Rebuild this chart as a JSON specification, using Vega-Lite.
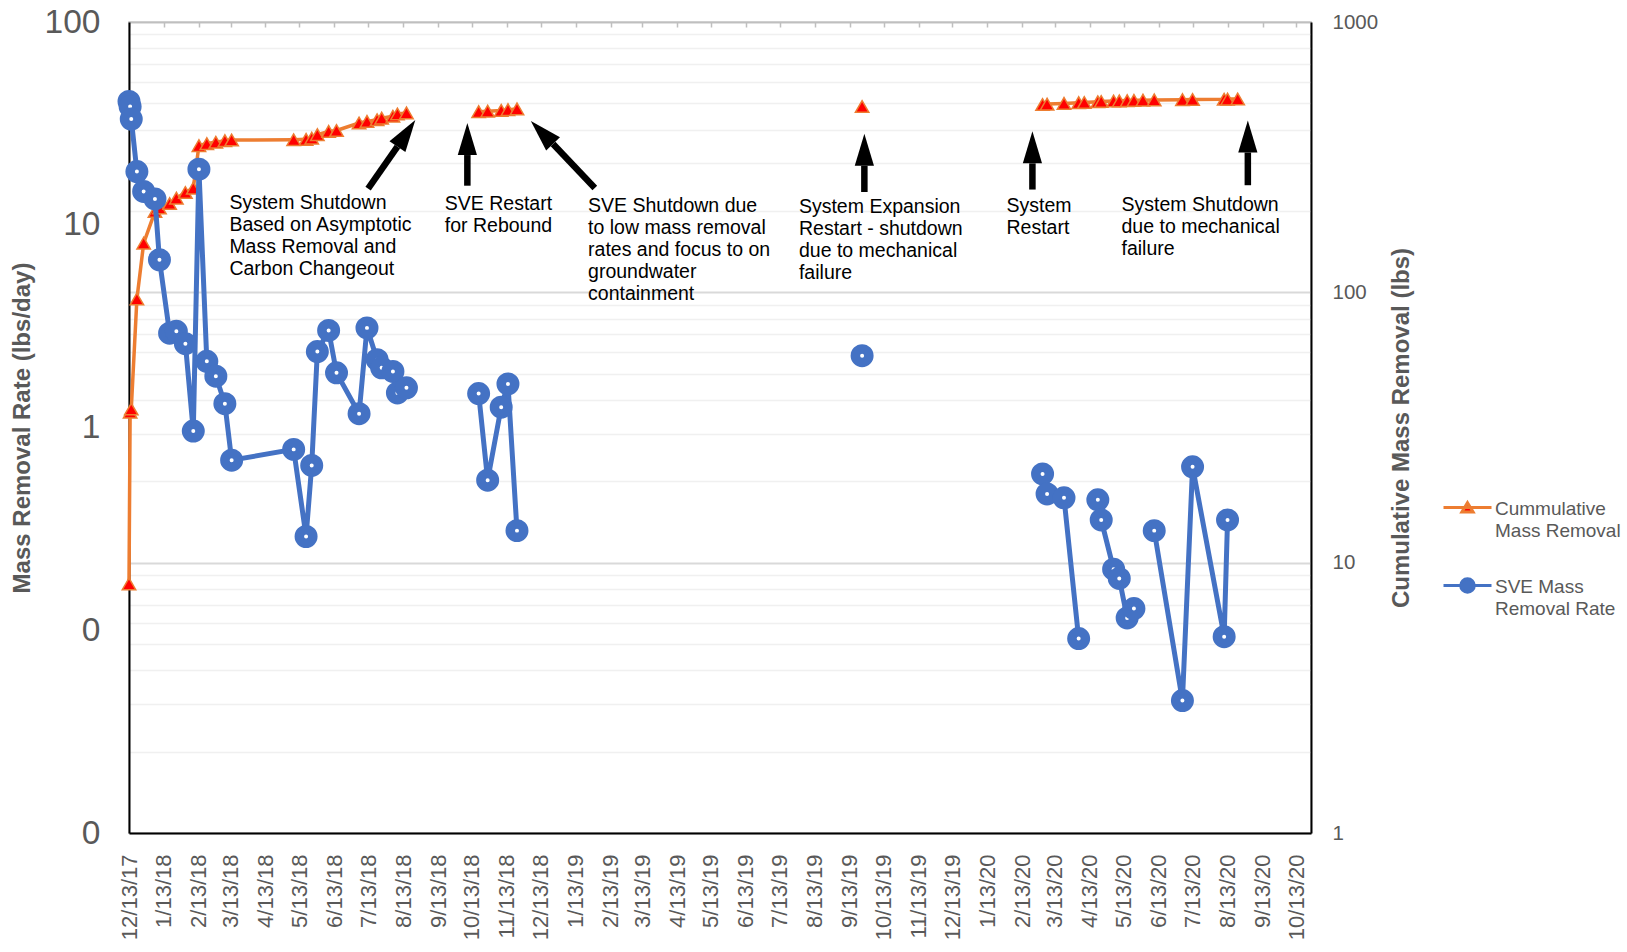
{
  "$schema": "https://vega.github.io/schema/vega-lite/v6.json",
  "width": 1182,
  "height": 811,
  "autosize": {"type": "none"},
  "padding": {"left": 129, "top": 22, "right": 316, "bottom": 119},
  "background": "white",
  "config": {
    "font": "Liberation Sans",
    "view": {"stroke": "#BFBFBF", "strokeWidth": 1.5}
  },
  "datasets": {
    "rate": [
      {"date": "2017/12/13", "rate": 40.6, "segment": "Dec 2017 - Aug 2018"},
      {"date": "2017/12/14", "rate": 38.3, "segment": "Dec 2017 - Aug 2018"},
      {"date": "2017/12/15", "rate": 33.2, "segment": "Dec 2017 - Aug 2018"},
      {"date": "2017/12/20", "rate": 18.3, "segment": "Dec 2017 - Aug 2018"},
      {"date": "2017/12/26", "rate": 14.6, "segment": "Dec 2017 - Aug 2018"},
      {"date": "2018/01/05", "rate": 13.4, "segment": "Dec 2017 - Aug 2018"},
      {"date": "2018/01/09", "rate": 6.72, "segment": "Dec 2017 - Aug 2018"},
      {"date": "2018/01/18", "rate": 2.92, "segment": "Dec 2017 - Aug 2018"},
      {"date": "2018/01/24", "rate": 2.98, "segment": "Dec 2017 - Aug 2018"},
      {"date": "2018/02/01", "rate": 2.59, "segment": "Dec 2017 - Aug 2018"},
      {"date": "2018/02/08", "rate": 0.96, "segment": "Dec 2017 - Aug 2018"},
      {"date": "2018/02/13", "rate": 18.8, "segment": "Dec 2017 - Aug 2018"},
      {"date": "2018/02/20", "rate": 2.12, "segment": "Dec 2017 - Aug 2018"},
      {"date": "2018/02/28", "rate": 1.79, "segment": "Dec 2017 - Aug 2018"},
      {"date": "2018/03/08", "rate": 1.31, "segment": "Dec 2017 - Aug 2018"},
      {"date": "2018/03/14", "rate": 0.69, "segment": "Dec 2017 - Aug 2018"},
      {"date": "2018/05/08", "rate": 0.78, "segment": "Dec 2017 - Aug 2018"},
      {"date": "2018/05/19", "rate": 0.29, "segment": "Dec 2017 - Aug 2018"},
      {"date": "2018/05/24", "rate": 0.65, "segment": "Dec 2017 - Aug 2018"},
      {"date": "2018/05/29", "rate": 2.37, "segment": "Dec 2017 - Aug 2018"},
      {"date": "2018/06/08", "rate": 3.01, "segment": "Dec 2017 - Aug 2018"},
      {"date": "2018/06/15", "rate": 1.86, "segment": "Dec 2017 - Aug 2018"},
      {"date": "2018/07/05", "rate": 1.17, "segment": "Dec 2017 - Aug 2018"},
      {"date": "2018/07/12", "rate": 3.10, "segment": "Dec 2017 - Aug 2018"},
      {"date": "2018/07/21", "rate": 2.16, "segment": "Dec 2017 - Aug 2018"},
      {"date": "2018/07/25", "rate": 1.97, "segment": "Dec 2017 - Aug 2018"},
      {"date": "2018/08/04", "rate": 1.89, "segment": "Dec 2017 - Aug 2018"},
      {"date": "2018/08/08", "rate": 1.48, "segment": "Dec 2017 - Aug 2018"},
      {"date": "2018/08/16", "rate": 1.57, "segment": "Dec 2017 - Aug 2018"},
      {"date": "2018/10/19", "rate": 1.47, "segment": "Oct - Nov 2018"},
      {"date": "2018/10/27", "rate": 0.55, "segment": "Oct - Nov 2018"},
      {"date": "2018/11/08", "rate": 1.26, "segment": "Oct - Nov 2018"},
      {"date": "2018/11/14", "rate": 1.64, "segment": "Oct - Nov 2018"},
      {"date": "2018/11/22", "rate": 0.31, "segment": "Oct - Nov 2018"},
      {"date": "2019/09/24", "rate": 2.26, "segment": "Sep 2019"},
      {"date": "2020/03/02", "rate": 0.59, "segment": "Mar - Apr 2020"},
      {"date": "2020/03/06", "rate": 0.47, "segment": "Mar - Apr 2020"},
      {"date": "2020/03/21", "rate": 0.45, "segment": "Mar - Apr 2020"},
      {"date": "2020/04/03", "rate": 0.091, "segment": "Mar - Apr 2020"},
      {"date": "2020/04/20", "rate": 0.44, "segment": "Apr - May 2020"},
      {"date": "2020/04/23", "rate": 0.35, "segment": "Apr - May 2020"},
      {"date": "2020/05/04", "rate": 0.20, "segment": "Apr - May 2020"},
      {"date": "2020/05/09", "rate": 0.18, "segment": "Apr - May 2020"},
      {"date": "2020/05/16", "rate": 0.115, "segment": "Apr - May 2020"},
      {"date": "2020/05/22", "rate": 0.128, "segment": "Apr - May 2020"},
      {"date": "2020/06/09", "rate": 0.31, "segment": "Jun - Aug 2020"},
      {"date": "2020/07/04", "rate": 0.045, "segment": "Jun - Aug 2020"},
      {"date": "2020/07/13", "rate": 0.64, "segment": "Jun - Aug 2020"},
      {"date": "2020/08/10", "rate": 0.093, "segment": "Jun - Aug 2020"},
      {"date": "2020/08/13", "rate": 0.35, "segment": "Jun - Aug 2020"}
    ],
    "cumulative": [
      {"date": "2017/12/13", "lbs": 8.35, "segment": "Dec 2017 - Aug 2018"},
      {"date": "2017/12/14", "lbs": 36, "segment": "Dec 2017 - Aug 2018"},
      {"date": "2017/12/15", "lbs": 37, "segment": "Dec 2017 - Aug 2018"},
      {"date": "2017/12/20", "lbs": 94.5, "segment": "Dec 2017 - Aug 2018"},
      {"date": "2017/12/26", "lbs": 152, "segment": "Dec 2017 - Aug 2018"},
      {"date": "2018/01/05", "lbs": 199, "segment": "Dec 2017 - Aug 2018"},
      {"date": "2018/01/09", "lbs": 205, "segment": "Dec 2017 - Aug 2018"},
      {"date": "2018/01/18", "lbs": 213, "segment": "Dec 2017 - Aug 2018"},
      {"date": "2018/01/24", "lbs": 223, "segment": "Dec 2017 - Aug 2018"},
      {"date": "2018/02/01", "lbs": 234, "segment": "Dec 2017 - Aug 2018"},
      {"date": "2018/02/08", "lbs": 243, "segment": "Dec 2017 - Aug 2018"},
      {"date": "2018/02/13", "lbs": 349, "segment": "Dec 2017 - Aug 2018"},
      {"date": "2018/02/20", "lbs": 355, "segment": "Dec 2017 - Aug 2018"},
      {"date": "2018/02/28", "lbs": 359, "segment": "Dec 2017 - Aug 2018"},
      {"date": "2018/03/08", "lbs": 364, "segment": "Dec 2017 - Aug 2018"},
      {"date": "2018/03/14", "lbs": 366, "segment": "Dec 2017 - Aug 2018"},
      {"date": "2018/05/08", "lbs": 367, "segment": "Dec 2017 - Aug 2018"},
      {"date": "2018/05/19", "lbs": 368, "segment": "Dec 2017 - Aug 2018"},
      {"date": "2018/05/24", "lbs": 372, "segment": "Dec 2017 - Aug 2018"},
      {"date": "2018/05/29", "lbs": 383, "segment": "Dec 2017 - Aug 2018"},
      {"date": "2018/06/08", "lbs": 394, "segment": "Dec 2017 - Aug 2018"},
      {"date": "2018/06/15", "lbs": 397, "segment": "Dec 2017 - Aug 2018"},
      {"date": "2018/07/05", "lbs": 423, "segment": "Dec 2017 - Aug 2018"},
      {"date": "2018/07/12", "lbs": 429, "segment": "Dec 2017 - Aug 2018"},
      {"date": "2018/07/21", "lbs": 435, "segment": "Dec 2017 - Aug 2018"},
      {"date": "2018/07/25", "lbs": 441, "segment": "Dec 2017 - Aug 2018"},
      {"date": "2018/08/04", "lbs": 448, "segment": "Dec 2017 - Aug 2018"},
      {"date": "2018/08/08", "lbs": 457, "segment": "Dec 2017 - Aug 2018"},
      {"date": "2018/08/16", "lbs": 461, "segment": "Dec 2017 - Aug 2018"},
      {"date": "2018/10/19", "lbs": 466, "segment": "Oct - Nov 2018"},
      {"date": "2018/10/27", "lbs": 468, "segment": "Oct - Nov 2018"},
      {"date": "2018/11/08", "lbs": 471, "segment": "Oct - Nov 2018"},
      {"date": "2018/11/14", "lbs": 474, "segment": "Oct - Nov 2018"},
      {"date": "2018/11/22", "lbs": 477, "segment": "Oct - Nov 2018"},
      {"date": "2019/09/24", "lbs": 487, "segment": "Sep 2019"},
      {"date": "2020/03/02", "lbs": 495, "segment": "2020"},
      {"date": "2020/03/06", "lbs": 497, "segment": "2020"},
      {"date": "2020/03/21", "lbs": 500, "segment": "2020"},
      {"date": "2020/04/03", "lbs": 503, "segment": "2020"},
      {"date": "2020/04/08", "lbs": 504, "segment": "2020"},
      {"date": "2020/04/20", "lbs": 507, "segment": "2020"},
      {"date": "2020/04/23", "lbs": 508, "segment": "2020"},
      {"date": "2020/05/04", "lbs": 510, "segment": "2020"},
      {"date": "2020/05/09", "lbs": 511, "segment": "2020"},
      {"date": "2020/05/16", "lbs": 512, "segment": "2020"},
      {"date": "2020/05/22", "lbs": 513, "segment": "2020"},
      {"date": "2020/05/30", "lbs": 514, "segment": "2020"},
      {"date": "2020/06/09", "lbs": 515, "segment": "2020"},
      {"date": "2020/07/04", "lbs": 516, "segment": "2020"},
      {"date": "2020/07/13", "lbs": 517, "segment": "2020"},
      {"date": "2020/08/10", "lbs": 518, "segment": "2020"},
      {"date": "2020/08/13", "lbs": 518.5, "segment": "2020"},
      {"date": "2020/08/22", "lbs": 519, "segment": "2020"}
    ],
    "notes": [
      {"date": "2018/03/12", "lbs": 231, "note": "System Shutdown|Based on Asymptotic|Mass Removal and|Carbon Changeout"},
      {"date": "2018/09/19", "lbs": 230, "note": "SVE Restart|for Rebound"},
      {"date": "2019/01/24", "lbs": 225, "note": "SVE Shutdown  due|to low mass removal|rates and focus to on|groundwater|containment"},
      {"date": "2019/07/30", "lbs": 223, "note": "System Expansion|Restart - shutdown|due to mechanical|failure"},
      {"date": "2020/01/30", "lbs": 225, "note": "System|Restart"},
      {"date": "2020/05/11", "lbs": 228, "note": "System Shutdown|due to mechanical|failure"}
    ],
    "arrows": [
      {"event": "Asymptotic shutdown", "date": "2018/07/13", "lbs": 242, "headDate": "2018/08/08", "headLbs": 346},
      {"event": "Rebound restart", "date": "2018/10/09", "lbs": 248, "headDate": "2018/10/09", "headLbs": 322},
      {"event": "Low-rate shutdown", "date": "2019/01/30", "lbs": 243, "headDate": "2018/12/24", "headLbs": 354},
      {"event": "Expansion restart", "date": "2019/09/26", "lbs": 235, "headDate": "2019/09/26", "headLbs": 294},
      {"event": "System restart", "date": "2020/02/22", "lbs": 240, "headDate": "2020/02/22", "headLbs": 300},
      {"event": "Mechanical shutdown", "date": "2020/08/31", "lbs": 249, "headDate": "2020/08/31", "headLbs": 329}
    ]
  },
  "layer": [
    {
      "encoding": {
        "x": {
          "field": "date",
          "type": "temporal",
          "scale": {
            "domain": [{"year": 2017, "month": 12, "date": 13}, {"year": 2020, "month": 10, "date": 26}],
            "nice": false
          },
          "axis": {
            "title": null,
            "values": [
              {"year": 2017, "month": 12, "date": 13},
              {"year": 2018, "month": 1, "date": 13}, {"year": 2018, "month": 2, "date": 13}, {"year": 2018, "month": 3, "date": 13},
              {"year": 2018, "month": 4, "date": 13}, {"year": 2018, "month": 5, "date": 13}, {"year": 2018, "month": 6, "date": 13},
              {"year": 2018, "month": 7, "date": 13}, {"year": 2018, "month": 8, "date": 13}, {"year": 2018, "month": 9, "date": 13},
              {"year": 2018, "month": 10, "date": 13}, {"year": 2018, "month": 11, "date": 13}, {"year": 2018, "month": 12, "date": 13},
              {"year": 2019, "month": 1, "date": 13}, {"year": 2019, "month": 2, "date": 13}, {"year": 2019, "month": 3, "date": 13},
              {"year": 2019, "month": 4, "date": 13}, {"year": 2019, "month": 5, "date": 13}, {"year": 2019, "month": 6, "date": 13},
              {"year": 2019, "month": 7, "date": 13}, {"year": 2019, "month": 8, "date": 13}, {"year": 2019, "month": 9, "date": 13},
              {"year": 2019, "month": 10, "date": 13}, {"year": 2019, "month": 11, "date": 13}, {"year": 2019, "month": 12, "date": 13},
              {"year": 2020, "month": 1, "date": 13}, {"year": 2020, "month": 2, "date": 13}, {"year": 2020, "month": 3, "date": 13},
              {"year": 2020, "month": 4, "date": 13}, {"year": 2020, "month": 5, "date": 13}, {"year": 2020, "month": 6, "date": 13},
              {"year": 2020, "month": 7, "date": 13}, {"year": 2020, "month": 8, "date": 13}, {"year": 2020, "month": 9, "date": 13},
              {"year": 2020, "month": 10, "date": 13}
            ],
            "format": "%-m/%-d/%y",
            "labelAngle": -90,
            "labelFontSize": 22,
            "labelColor": "#595959",
            "labelPadding": 21,
            "labelOverlap": false,
            "labelFlush": false,
            "ticks": false,
            "grid": false,
            "domainColor": "#000000",
            "domainWidth": 2
          }
        }
      },
      "layer": [
        {
          "encoding": {
            "y": {
              "field": "lbs",
              "type": "quantitative",
              "scale": {"type": "log", "domain": [1, 1000], "nice": false},
              "axis": {
                "orient": "right",
                "title": "Cumulative Mass Removal  (lbs)",
                "titleAngle": 270,
                "titleFontSize": 24,
                "titleFontWeight": "bold",
                "titleColor": "#595959",
                "titlePadding": 36,
                "values": [1, 2, 3, 4, 5, 6, 7, 8, 9, 10, 20, 30, 40, 50, 60, 70, 80, 90, 100, 200, 300, 400, 500, 600, 700, 800, 900, 1000],
                "labelExpr": "indexof([1, 10, 100, 1000], datum.value) >= 0 ? format(datum.value, 'd') : ''",
                "labelFontSize": 20.5,
                "labelColor": "#595959",
                "labelPadding": 21,
                "labelOverlap": false,
                "labelFlush": false,
                "ticks": false,
                "domainColor": "#000000",
                "domainWidth": 2,
                "grid": true,
                "gridColor": {"condition": {"test": "indexof([1, 10, 100, 1000], datum.value) >= 0", "value": "#D9D9D9"}, "value": "#F0F0F0"},
                "gridWidth": {"condition": {"test": "indexof([1, 10, 100, 1000], datum.value) >= 0", "value": 2}, "value": 1.5}
              }
            }
          },
          "layer": [
            {
              "data": {"name": "cumulative"},
              "mark": {"type": "line", "strokeWidth": 3.5},
              "encoding": {
                "detail": {"field": "segment", "type": "nominal"},
                "stroke": {
                  "datum": "Cummulative Mass Removal",
                  "type": "nominal",
                  "scale": {"domain": ["Cummulative Mass Removal", "SVE Mass Removal Rate"], "range": ["#ED7D31", "#4472C4"]},
                  "legend": {
                    "orient": "none",
                    "legendX": 1329,
                    "legendY": 476,
                    "title": null,
                    "padding": 0,
                    "symbolSize": 256,
                    "symbolStrokeWidth": 3,
                    "symbolOffset": 0,
                    "labelOffset": 18,
                    "labelFontSize": 19,
                    "labelColor": "#595959",
                    "labelBaseline": "top",
                    "rowPadding": 31,
                    "labelExpr": "datum.value == 'Cummulative Mass Removal' ? ['Cummulative', 'Mass Removal'] : ['SVE Mass', 'Removal Rate']",
                    "encode": {
                      "symbols": {
                        "update": {
                          "shape": {"signal": "datum.value == 'Cummulative Mass Removal' ? 'M-3,0H3M0,-0.6L0.7,0.55L-0.7,0.55Z' : 'M-3,0H3M0.85,0A0.85,0.85 0 1,1 -0.85,0A0.85,0.85 0 1,1 0.85,0Z'"},
                          "fill": {"signal": "datum.value == 'Cummulative Mass Removal' ? '#FF0000' : '#4472C4'"},
                          "stroke": {"signal": "datum.value == 'Cummulative Mass Removal' ? '#ED7D31' : '#4472C4'"},
                          "opacity": {"value": 1}
                        }
                      },
                      "labels": {"update": {"lineHeight": {"value": 22}, "dy": {"value": -7.5}}}
                    }
                  }
                }
              }
            },
            {
              "data": {"name": "cumulative"},
              "mark": {"type": "point", "shape": "triangle-up", "filled": true, "fill": "#FF0000", "stroke": "#ED7D31", "strokeWidth": 1.5, "size": 180, "opacity": 1}
            }
          ]
        },
        {
          "encoding": {
            "y": {
              "field": "rate",
              "type": "quantitative",
              "scale": {"type": "log", "domain": [0.01, 100], "nice": false},
              "axis": {
                "orient": "left",
                "title": "Mass Removal Rate (lbs/day)",
                "titleFontSize": 24,
                "titleFontWeight": "bold",
                "titleColor": "#595959",
                "titlePadding": 10,
                "values": [0.01, 0.1, 1, 10, 100],
                "labelExpr": "datum.value >= 1 ? format(datum.value, 'd') : '0'",
                "labelFontSize": 33.5,
                "labelColor": "#595959",
                "labelPadding": 29,
                "labelOverlap": false,
                "labelFlush": false,
                "ticks": false,
                "grid": false,
                "domainColor": "#000000",
                "domainWidth": 2
              }
            }
          },
          "layer": [
            {
              "data": {"name": "rate"},
              "mark": {"type": "line", "strokeWidth": 5},
              "encoding": {
                "detail": {"field": "segment", "type": "nominal"},
                "stroke": {"datum": "SVE Mass Removal Rate", "type": "nominal"}
              }
            },
            {
              "data": {"name": "rate"},
              "mark": {"type": "point", "shape": "circle", "filled": true, "fill": "#FFFFFF", "stroke": "#4472C4", "strokeWidth": 9.5, "size": 182, "opacity": 1}
            }
          ]
        }
      ],
      "resolve": {"scale": {"y": "independent"}}
    },
    {
      "encoding": {
        "x": {
          "field": "date",
          "type": "temporal",
          "scale": {
            "domain": [{"year": 2017, "month": 12, "date": 13}, {"year": 2020, "month": 10, "date": 26}],
            "nice": false
          },
          "axis": {
            "orient": "top",
            "title": null,
            "labels": false,
            "values": [
              {"year": 2017, "month": 12, "date": 13},
              {"year": 2018, "month": 1, "date": 13}, {"year": 2018, "month": 2, "date": 13}, {"year": 2018, "month": 3, "date": 13},
              {"year": 2018, "month": 4, "date": 13}, {"year": 2018, "month": 5, "date": 13}, {"year": 2018, "month": 6, "date": 13},
              {"year": 2018, "month": 7, "date": 13}, {"year": 2018, "month": 8, "date": 13}, {"year": 2018, "month": 9, "date": 13},
              {"year": 2018, "month": 10, "date": 13}, {"year": 2018, "month": 11, "date": 13}, {"year": 2018, "month": 12, "date": 13},
              {"year": 2019, "month": 1, "date": 13}, {"year": 2019, "month": 2, "date": 13}, {"year": 2019, "month": 3, "date": 13},
              {"year": 2019, "month": 4, "date": 13}, {"year": 2019, "month": 5, "date": 13}, {"year": 2019, "month": 6, "date": 13},
              {"year": 2019, "month": 7, "date": 13}, {"year": 2019, "month": 8, "date": 13}, {"year": 2019, "month": 9, "date": 13},
              {"year": 2019, "month": 10, "date": 13}, {"year": 2019, "month": 11, "date": 13}, {"year": 2019, "month": 12, "date": 13},
              {"year": 2020, "month": 1, "date": 13}, {"year": 2020, "month": 2, "date": 13}, {"year": 2020, "month": 3, "date": 13},
              {"year": 2020, "month": 4, "date": 13}, {"year": 2020, "month": 5, "date": 13}, {"year": 2020, "month": 6, "date": 13},
              {"year": 2020, "month": 7, "date": 13}, {"year": 2020, "month": 8, "date": 13}, {"year": 2020, "month": 9, "date": 13},
              {"year": 2020, "month": 10, "date": 13}
            ],
            "ticks": true,
            "tickSize": -5,
            "tickColor": "#BFBFBF",
            "tickWidth": 1.5,
            "grid": false,
            "domainColor": "#BFBFBF",
            "domainWidth": 1.5
          }
        },
        "y": {
          "field": "lbs",
          "type": "quantitative",
          "scale": {"type": "log", "domain": [1, 1000], "nice": false},
          "axis": null
        }
      },
      "layer": [
        {
          "data": {"name": "arrows"},
          "mark": {"type": "rule", "color": "#000000", "strokeWidth": 6.5, "strokeCap": "butt"},
          "encoding": {"x2": {"field": "headDate"}, "y2": {"field": "headLbs"}}
        },
        {
          "data": {"name": "arrows"},
          "transform": [{"filter": "indexof(['Asymptotic shutdown', 'Low-rate shutdown'], datum.event) < 0"}],
          "mark": {"type": "point", "shape": "M0,-2L0.6,0L-0.6,0Z", "filled": true, "color": "#000000", "size": 1024, "opacity": 1, "strokeWidth": 0},
          "encoding": {"x": {"field": "headDate", "type": "temporal"}, "y": {"field": "headLbs", "type": "quantitative"}}
        },
        {
          "data": {"name": "arrows"},
          "transform": [{"filter": "datum.event == 'Asymptotic shutdown'"}],
          "mark": {"type": "point", "shape": "M0,-2L0.6,0L-0.6,0Z", "filled": true, "color": "#000000", "size": 1024, "opacity": 1, "strokeWidth": 0, "angle": 34},
          "encoding": {"x": {"field": "headDate", "type": "temporal"}, "y": {"field": "headLbs", "type": "quantitative"}}
        },
        {
          "data": {"name": "arrows"},
          "transform": [{"filter": "datum.event == 'Low-rate shutdown'"}],
          "mark": {"type": "point", "shape": "M0,-2L0.6,0L-0.6,0Z", "filled": true, "color": "#000000", "size": 1024, "opacity": 1, "strokeWidth": 0, "angle": -44},
          "encoding": {"x": {"field": "headDate", "type": "temporal"}, "y": {"field": "headLbs", "type": "quantitative"}}
        },
        {
          "data": {"name": "notes"},
          "mark": {"type": "text", "align": "left", "baseline": "top", "fontSize": 19.5, "lineHeight": 22, "lineBreak": "|", "color": "#000000"},
          "encoding": {"text": {"field": "note", "type": "nominal"}}
        }
      ]
    }
  ],
  "resolve": {"scale": {"x": "independent", "y": "independent"}}
}
